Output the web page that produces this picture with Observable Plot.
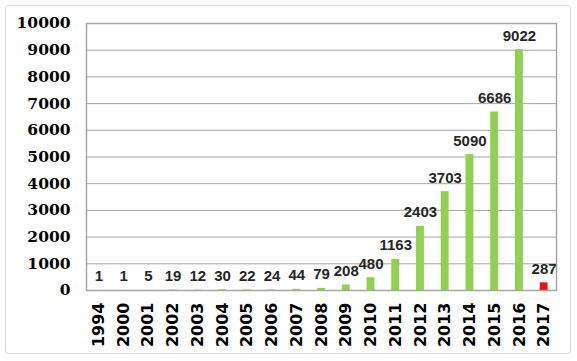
<!DOCTYPE html>
<html>
<head>
<meta charset="utf-8">
<script src="https://cdn.jsdelivr.net/npm/d3@7"></script>
<script src="https://cdn.jsdelivr.net/npm/@observablehq/plot@0.6"></script>
<style>
  html, body { margin: 0; padding: 0; background: #fff; }
  #wrap { position: relative; width: 577px; height: 361px; }
  #border { position: absolute; left: 5px; top: 5px; width: 566px; height: 349px; border: 1px solid #d9d9d9; border-radius: 3px; box-sizing: border-box; pointer-events: none; }
  #wrap svg { position: absolute; left: 0; top: 0; }
</style>
</head>
<body>
<div id="wrap"><div id="border"></div></div>
<script>
const years = ["1994","2000","2001","2002","2003","2004","2005","2006","2007","2008","2009","2010","2011","2012","2013","2014","2015","2016","2017"];
const values = [1,1,5,19,12,30,22,24,44,79,208,480,1163,2403,3703,5090,6686,9022,287];
const yTicks = [0,1000,2000,3000,4000,5000,6000,7000,8000,9000,10000];

const data = years.map((y, i) => ({year: y, value: values[i], partial: y === "2017"}));

const chart = Plot.plot({
  width: 577,
  height: 361,
  marginLeft: 86,
  marginRight: 21,
  marginTop: 23,
  marginBottom: 71,
  style: {background: "transparent", overflow: "visible"},
  x: {domain: years, paddingInner: 0.68, paddingOuter: 0.34, round: false, label: null},
  y: {domain: [0, 10000], label: null},
  marks: [
    Plot.gridY(yTicks, {stroke: "#a6a6a6", strokeOpacity: 1, strokeWidth: 1}),
    Plot.barY(data, {x: "year", y: "value", fill: d => d.partial ? "#e8101a" : "#92d050"}),
    Plot.frame({stroke: "#a6a6a6", strokeWidth: 1.5}),
    Plot.text(data, {x: "year", y: "value", text: d => String(d.value), lineAnchor: "bottom", dy: -9,
      fontFamily: "Liberation Sans, Arial, sans-serif", fontWeight: "bold", fontSize: 15, fill: "#262626", letterSpacing: "-0.6px"}),
    Plot.axisY(yTicks, {tickSize: 0, tickPadding: 16, tickFormat: d => String(d),
      fontFamily: "DejaVu Serif", fontWeight: "bold", fontSize: 15.5, fill: "#000"}),
    Plot.axisX({tickSize: 0, tickPadding: 12, tickRotate: -90,
      fontFamily: "DejaVu Sans", fontWeight: "bold", fontSize: 16, fill: "#000"})
  ]
});
document.getElementById("wrap").appendChild(chart);
</script>
</body>
</html>
